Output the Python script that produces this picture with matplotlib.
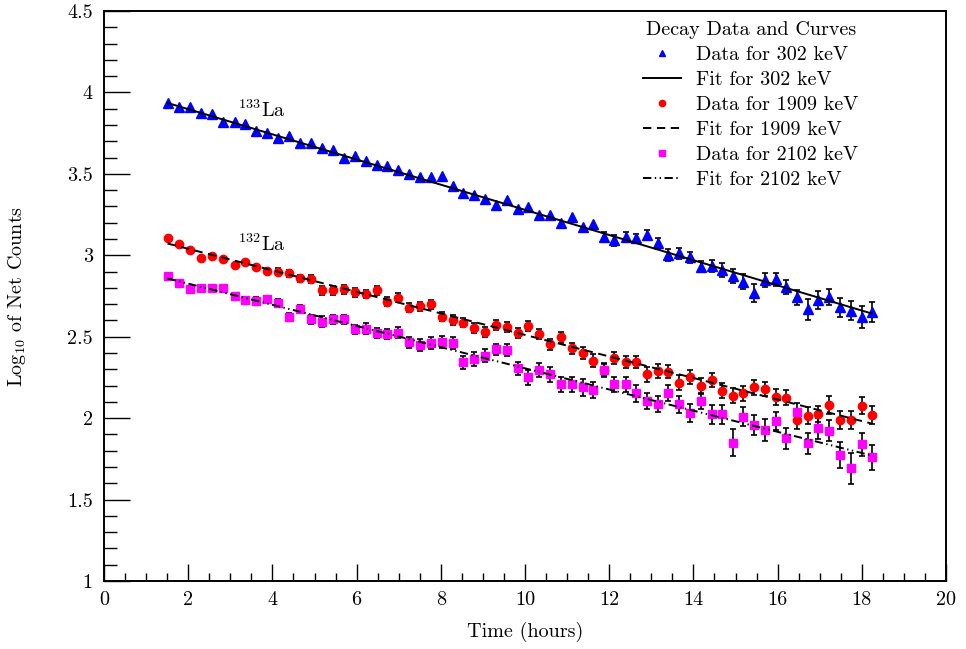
import matplotlib
matplotlib.use('Agg')
import matplotlib.pyplot as plt
import numpy as np
from matplotlib.ticker import MultipleLocator, FuncFormatter

# measurement times (hours)
time_h = [1.51, 1.77, 2.04, 2.30, 2.57, 2.83, 3.10, 3.35, 3.61, 3.88, 4.14,
          4.39, 4.66, 4.92, 5.19, 5.45, 5.70, 5.96, 6.22, 6.48, 6.73, 6.98,
          7.25, 7.51, 7.77, 8.02, 8.28, 8.53, 8.80, 9.05, 9.31, 9.57, 9.83,
          10.08, 10.33, 10.59, 10.85, 11.11, 11.37, 11.62, 11.87, 12.12, 12.39, 12.64,
          12.90, 13.15, 13.40, 13.66, 13.92, 14.17, 14.43, 14.69, 14.94, 15.19, 15.44,
          15.70, 15.96, 16.21, 16.46, 16.72, 16.97, 17.22, 17.48, 17.74, 18.00, 18.24]

# log10 net counts, 302 keV (133La)
y_302 = [3.936, 3.908, 3.908, 3.875, 3.867, 3.820, 3.816, 3.806, 3.764, 3.752, 3.718,
         3.734, 3.691, 3.691, 3.660, 3.646, 3.595, 3.611, 3.580, 3.554, 3.548, 3.523,
         3.498, 3.482, 3.478, 3.486, 3.427, 3.380, 3.370, 3.343, 3.308, 3.339, 3.282,
         3.298, 3.247, 3.247, 3.196, 3.233, 3.171, 3.192, 3.114, 3.093, 3.114, 3.104,
         3.124, 3.073, 3.001, 3.012, 2.987, 2.929, 2.934, 2.909, 2.872, 2.837, 2.770,
         2.848, 2.852, 2.807, 2.742, 2.668, 2.725, 2.745, 2.680, 2.659, 2.619, 2.653]
err_302 = [0.011, 0.011, 0.011, 0.012, 0.012, 0.012, 0.012, 0.012, 0.013, 0.013, 0.013,
           0.013, 0.014, 0.014, 0.014, 0.015, 0.015, 0.015, 0.016, 0.016, 0.016, 0.017,
           0.018, 0.018, 0.018, 0.018, 0.019, 0.020, 0.020, 0.021, 0.022, 0.021, 0.022,
           0.022, 0.023, 0.023, 0.024, 0.024, 0.025, 0.025, 0.027, 0.033, 0.027, 0.029,
           0.030, 0.032, 0.035, 0.034, 0.035, 0.034, 0.037, 0.041, 0.041, 0.046, 0.054,
           0.043, 0.041, 0.043, 0.046, 0.063, 0.054, 0.051, 0.058, 0.058, 0.067, 0.061]

# 1909 keV (132La)
y_1909 = [3.104, 3.067, 3.032, 2.981, 2.997, 2.977, 2.940, 2.960, 2.929, 2.903, 2.899,
          2.889, 2.858, 2.854, 2.786, 2.786, 2.792, 2.772, 2.762, 2.786, 2.715, 2.740,
          2.678, 2.688, 2.700, 2.622, 2.602, 2.586, 2.551, 2.530, 2.572, 2.561, 2.521,
          2.565, 2.516, 2.455, 2.496, 2.428, 2.402, 2.352, 2.295, 2.371, 2.346, 2.342,
          2.269, 2.289, 2.285, 2.217, 2.254, 2.199, 2.234, 2.168, 2.138, 2.152, 2.189,
          2.177, 2.131, 2.125, 1.988, 2.015, 2.023, 2.080, 1.988, 1.988, 2.076, 2.019]
err_1909 = [0.014, 0.014, 0.015, 0.015, 0.016, 0.016, 0.017, 0.017, 0.018, 0.019, 0.020,
            0.020, 0.021, 0.022, 0.027, 0.027, 0.027, 0.026, 0.026, 0.027, 0.027, 0.028,
            0.028, 0.028, 0.028, 0.027, 0.031, 0.028, 0.031, 0.030, 0.030, 0.030, 0.031,
            0.031, 0.031, 0.034, 0.036, 0.035, 0.036, 0.039, 0.036, 0.036, 0.037, 0.037,
            0.046, 0.043, 0.041, 0.046, 0.043, 0.049, 0.043, 0.046, 0.046, 0.047, 0.046,
            0.043, 0.051, 0.046, 0.056, 0.051, 0.049, 0.053, 0.054, 0.054, 0.051, 0.053]

# 2102 keV (132La)
y_2102 = [2.872, 2.831, 2.793, 2.797, 2.797, 2.797, 2.750, 2.725, 2.721, 2.729, 2.708,
          2.622, 2.668, 2.607, 2.592, 2.607, 2.607, 2.545, 2.549, 2.524, 2.516, 2.525,
          2.465, 2.449, 2.463, 2.469, 2.463, 2.343, 2.363, 2.383, 2.422, 2.418, 2.306,
          2.250, 2.295, 2.269, 2.209, 2.209, 2.189, 2.173, 2.295, 2.209, 2.209, 2.152,
          2.107, 2.087, 2.156, 2.085, 2.033, 2.105, 2.023, 2.023, 1.849, 2.009, 1.958,
          1.927, 1.984, 1.876, 2.039, 1.845, 1.937, 1.923, 1.773, 1.692, 1.839, 1.759]
err_2102 = [0.016, 0.016, 0.017, 0.017, 0.018, 0.018, 0.019, 0.020, 0.020, 0.021, 0.022,
            0.025, 0.024, 0.026, 0.033, 0.027, 0.027, 0.030, 0.034, 0.030, 0.031, 0.032,
            0.036, 0.037, 0.036, 0.036, 0.036, 0.041, 0.041, 0.039, 0.036, 0.036, 0.041,
            0.046, 0.043, 0.044, 0.046, 0.046, 0.050, 0.051, 0.043, 0.046, 0.046, 0.051,
            0.048, 0.051, 0.048, 0.054, 0.054, 0.049, 0.056, 0.056, 0.084, 0.057, 0.061,
            0.066, 0.056, 0.064, 0.053, 0.065, 0.064, 0.066, 0.079, 0.095, 0.072, 0.079]

# straight-line fits: log10(N) = a + b t
fit_302 = (4.052, -0.0773)
fit_1909 = (3.172, -0.0661)
fit_2102 = (2.956, -0.0650)

plt.rcParams['font.family'] = 'serif'
plt.rcParams['font.serif'] = ['cmr10']
plt.rcParams['mathtext.fontset'] = 'cm'
plt.rcParams['axes.formatter.use_mathtext'] = True
plt.rcParams['lines.scale_dashes'] = False

fs = 14.5
fig = plt.figure(figsize=(9.66, 6.49), dpi=100)
ax = fig.add_axes([104/966, 1 - 581/649, 842/966, 570/649])

t = np.array(time_h)
t_fit = np.linspace(t[0], t[-1], 50)

# marker, colour, size, error-bar threshold (ROOT hides bars inside the marker)
series = [
    (y_302, err_302, '^', 'blue', 6.5, 0.026, fit_302, '-', '302'),
    (y_1909, err_1909, 'o', 'red', 6.0, 0.019, fit_1909, (0, (6, 4)), '1909'),
    (y_2102, err_2102, 's', 'magenta', 5.8, 0.018, fit_2102, (0, (6, 2.5, 1, 2.5, 1, 2.5)), '2102'),
]

handles, labels = [], []
for y, e, mk, col, ms, thr, fit, ls, kev in series:
    y = np.array(y)
    e = np.array(e)
    show = e > thr
    ax.errorbar(t[show], y[show], yerr=e[show], fmt='none', ecolor='black',
                elinewidth=1.2, capsize=2.4, capthick=1.2, zorder=2)
    h_data, = ax.plot(t, y, ls='none', marker=mk, color=col, ms=ms, mec=col, zorder=3)
    h_fit, = ax.plot(t_fit, fit[0] + fit[1] * t_fit, color='black', lw=1.4, ls=ls, zorder=4)
    handles += [h_data, h_fit]
    labels += ['Data for %s keV' % kev, 'Fit for %s keV' % kev]

ax.text(3.18, 3.85, r'$^{133}$La', fontsize=fs, va='baseline')
ax.text(3.18, 3.028, r'$^{132}$La', fontsize=fs, va='baseline')

ax.set_xlim(0, 20)
ax.set_ylim(1, 4.5)
ax.xaxis.set_major_locator(MultipleLocator(2))
ax.xaxis.set_minor_locator(MultipleLocator(0.5))
ax.yaxis.set_major_locator(MultipleLocator(0.5))
ax.yaxis.set_minor_locator(MultipleLocator(0.1))
ax.yaxis.set_major_formatter(FuncFormatter(lambda v, p: '%g' % v))
ax.xaxis.set_major_formatter(FuncFormatter(lambda v, p: '%g' % v))

ax.tick_params(which='both', direction='in', top=False, right=False, labelsize=fs, width=1)
ax.tick_params(axis='x', which='major', length=12.2, pad=7.5)
ax.tick_params(axis='x', which='minor', length=6.1)
ax.tick_params(axis='y', which='major', length=18.5, pad=8)
ax.tick_params(axis='y', which='minor', length=9.3)
for sp in ax.spines.values():
    sp.set_linewidth(1.4)

ax.set_xlabel('Time (hours)', fontsize=fs)
ax.set_ylabel(r'Log$_{10}$ of Net Counts', fontsize=fs)
ax.xaxis.set_label_coords(0.5, -0.071)
ax.yaxis.set_label_coords(-0.09, 0.5)

ax.legend(handles, labels, title='Decay Data and Curves', loc='upper right',
          bbox_to_anchor=(0.8955, 0.982), frameon=False, fontsize=fs,
          title_fontsize=fs, handlelength=1.84, handletextpad=0.75,
          labelspacing=0.34, borderpad=0, borderaxespad=0, markerscale=0.75)

fig.savefig('out.png', dpi=100)
